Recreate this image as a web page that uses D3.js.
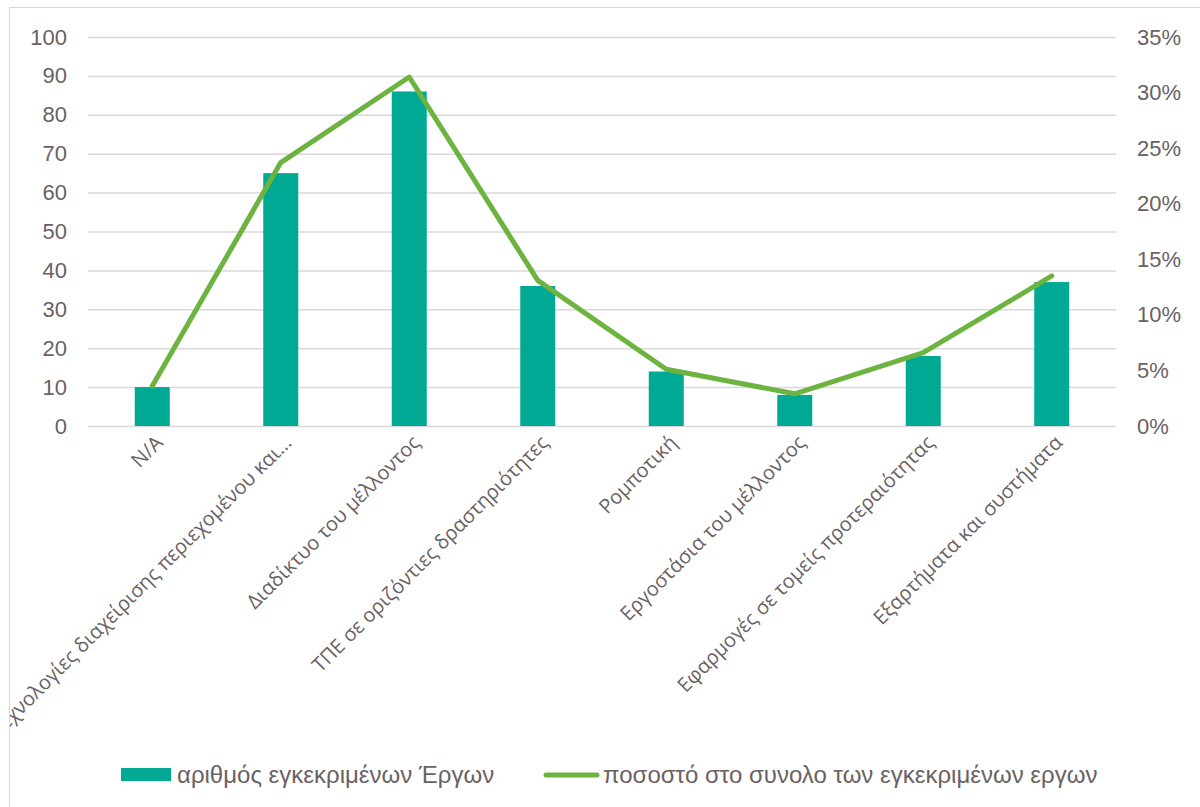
<!DOCTYPE html>
<html><head><meta charset="utf-8">
<script src="https://cdn.jsdelivr.net/npm/d3@7"></script>
<style>html,body{margin:0;padding:0;background:#fff;}svg{display:block;}</style>
</head><body><svg id="c" width="1200" height="807"></svg>
<script>
const categories = ["N/A","Τεχνολογίες διαχείρισης περιεχομένου και…","Διαδίκτυο του μέλλοντος","ΤΠΕ σε οριζόντιες δραστηριότητες","Ρομποτική","Εργοστάσια του μέλλοντος","Εφαρμογές σε τομείς προτεραιότητας","Εξαρτήματα και συστήματα"];
const projects = [10,65,86,36,14,8,18,37];
const shares = [0.036,0.237,0.314,0.131,0.051,0.029,0.066,0.135];
const leftTicks = [0,10,20,30,40,50,60,70,80,90,100];
const rightTicks = [0,0.05,0.10,0.15,0.20,0.25,0.30,0.35];
const seriesNames = ["αριθμός εγκεκριμένων Έργων","ποσοστό στο συνολο των εγκεκριμένων εργων"];

const svg = d3.select("#c");
const W=1200,H=807;
const m={l:88,r:1116,t:37,b:426};
const textCol="#6a6163";
const barCol="#00a994", lineCol="#6db33f", gridCol="#d9d9d9";

svg.append("defs").append("clipPath").attr("id","clip").append("rect").attr("x",10).attr("y",7).attr("width",W).attr("height",H);
svg.append("rect").attr("x",9.5).attr("y",7.5).attr("width",W+10).attr("height",H+10).attr("fill","#fff").attr("stroke","#d9d9d9").attr("stroke-width",1);

const x=d3.scaleBand().domain(categories).range([m.l,m.r]).paddingInner(0).paddingOuter(0);
const yL=d3.scaleLinear().domain([0,100]).range([m.b,m.t]);
const yR=d3.scaleLinear().domain([0,0.35]).range([m.b,m.t]);

const gL=svg.append("g").attr("transform",`translate(${m.l},0)`)
  .call(d3.axisLeft(yL).tickValues(leftTicks).tickSize(-(m.r-m.l)).tickPadding(21).tickFormat(d3.format("d")));
gL.select(".domain").remove();
gL.selectAll(".tick line").attr("stroke",gridCol).attr("stroke-width",1.5);
gL.selectAll(".tick text").attr("fill",textCol).attr("font-family","Liberation Sans, Arial, sans-serif").attr("font-size",22);

const gR=svg.append("g").attr("transform",`translate(${m.r},0)`)
  .call(d3.axisRight(yR).tickValues(rightTicks).tickSize(0).tickPadding(21).tickFormat(d3.format(".0%")));
gR.select(".domain").remove();
gR.selectAll(".tick text").attr("fill",textCol).attr("font-family","Liberation Sans, Arial, sans-serif").attr("font-size",22);

const bw=35;
svg.append("g").selectAll("rect").data(categories).join("rect")
  .attr("x",d=>x(d)+x.bandwidth()/2-bw/2).attr("width",bw)
  .attr("y",(d,i)=>yL(projects[i])).attr("height",(d,i)=>yL(0)-yL(projects[i]))
  .attr("fill",barCol);

const line=d3.line().x((d,i)=>x(categories[i])+x.bandwidth()/2).y(d=>yR(d));
svg.append("path").datum(shares).attr("d",line).attr("fill","none").attr("stroke",lineCol).attr("stroke-width",5).attr("stroke-linejoin","round").attr("stroke-linecap","round");

const gx=svg.append("g").attr("clip-path","url(#clip)");
gx.selectAll("text").data(categories).join("text")
  .attr("transform",d=>`translate(${x(d)+x.bandwidth()/2+7},${439}) rotate(-45)`)
  .attr("text-anchor","end").attr("dy","0.35em")
  .attr("fill",textCol).attr("font-family","Open Sans, sans-serif").attr("font-size",20)
  .text(d=>d);

const lg=svg.append("g");
lg.append("rect").attr("x",121).attr("y",768).attr("width",50).attr("height",13).attr("fill",barCol);
lg.append("text").attr("x",177).attr("y",775).attr("dy","0.35em").attr("fill",textCol).attr("font-family","Liberation Sans, Arial, sans-serif").attr("font-size",24).text(seriesNames[0]);
lg.append("line").attr("x1",546).attr("x2",597).attr("y1",775).attr("y2",775).attr("stroke",lineCol).attr("stroke-width",5).attr("stroke-linecap","round");
lg.append("text").attr("x",603).attr("y",775).attr("dy","0.35em").attr("fill",textCol).attr("font-family","Liberation Sans, Arial, sans-serif").attr("font-size",24).text(seriesNames[1]);
</script></body></html>
